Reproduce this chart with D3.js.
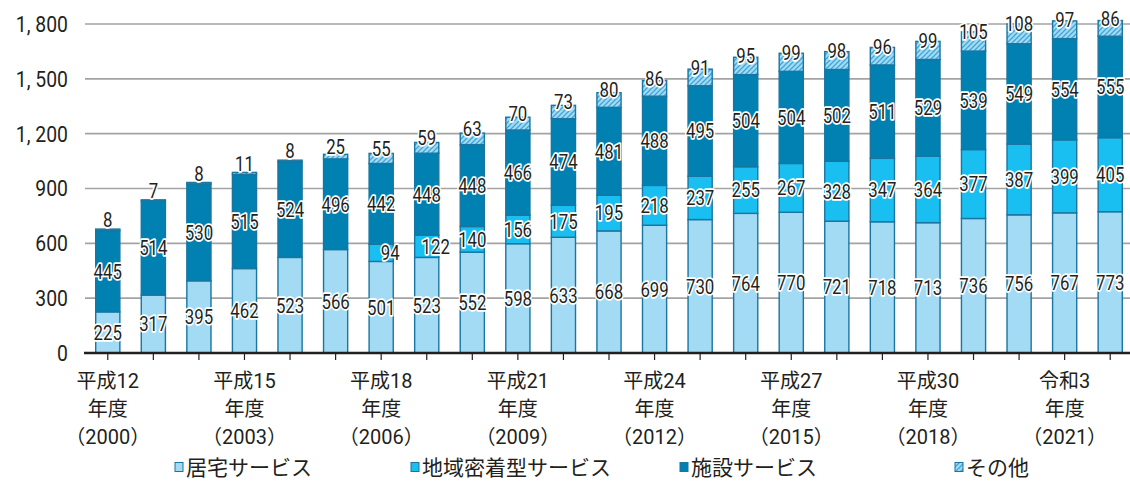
<!DOCTYPE html>
<html>
<head>
<meta charset="utf-8">
<script src="https://cdn.jsdelivr.net/npm/d3@7"></script>
<style>
body { margin: 0; background: #fff; }
text { font-family: Roboto, "Noto Sans CJK JP", sans-serif; fill: #231f20; }
</style>
</head>
<body>
<div id="chart"></div>
<script>
var width = 1130, height = 482;

// 年度
var years = [2000, 2001, 2002, 2003, 2004, 2005, 2006, 2007, 2008, 2009, 2010, 2011,
             2012, 2013, 2014, 2015, 2016, 2017, 2018, 2019, 2020, 2021, 2022];
var kyotaku = [225, 317, 395, 462, 523, 566, 501, 523, 552, 598, 633, 668,
               699, 730, 764, 770, 721, 718, 713, 736, 756, 767, 773];
var chiiki = [0, 0, 0, 0, 0, 0, 94, 122, 140, 156, 175, 195,
              218, 237, 255, 267, 328, 347, 364, 377, 387, 399, 405];
var shisetsu = [445, 514, 530, 515, 524, 496, 442, 448, 448, 466, 474, 481,
                488, 495, 504, 504, 502, 511, 529, 539, 549, 554, 555];
var sonota = [8, 7, 8, 11, 8, 25, 55, 59, 63, 70, 73, 80,
              86, 91, 95, 99, 98, 96, 99, 105, 108, 97, 86];

var seriesNames = ["居宅サービス", "地域密着型サービス", "施設サービス", "その他"];
var yTicks = [0, 300, 600, 900, 1200, 1500, 1800];
var labelYears = [2000, 2003, 2006, 2009, 2012, 2015, 2018, 2021];
var labelLines = [
  ["平成12", "年度", "（2000）"],
  ["平成15", "年度", "（2003）"],
  ["平成18", "年度", "（2006）"],
  ["平成21", "年度", "（2009）"],
  ["平成24", "年度", "（2012）"],
  ["平成27", "年度", "（2015）"],
  ["平成30", "年度", "（2018）"],
  ["令和3", "年度", "（2021）"]
];

var colors = ["#a3dbf5", "#19bff0", "#0081b2", "url(#hatch)"];

var svg = d3.select("#chart").append("svg")
  .attr("width", width)
  .attr("height", height);

var defs = svg.append("defs");
var pat = defs.append("pattern")
  .attr("id", "hatch")
  .attr("patternUnits", "userSpaceOnUse")
  .attr("width", 5).attr("height", 5);
pat.append("rect").attr("width", 5).attr("height", 5).attr("fill", "#a3dbf5");
pat.append("path")
  .attr("d", "M0,5 L5,0 M-1,1 L1,-1 M4,6 L6,4")
  .attr("stroke", "#3fa6d8").attr("stroke-width", 1.3);

var x = d3.scaleBand()
  .domain(years)
  .range([85, 1133])
  .paddingInner(0.47)
  .paddingOuter(0.235);

var y = d3.scaleLinear()
  .domain([0, 1800])
  .range([353, 24]);

// grid
svg.append("g").selectAll("line")
  .data(yTicks.slice(1))
  .enter().append("line")
  .attr("x1", 85).attr("x2", 1133)
  .attr("y1", function(d) { return y(d); })
  .attr("y2", function(d) { return y(d); })
  .attr("stroke", "#a3a3a3")
  .attr("stroke-width", 1.6);

// y labels (narrowed)
svg.append("g").selectAll("text")
  .data(yTicks)
  .enter().append("text")
  .attr("transform", function(d) { return "translate(68," + y(d) + ") scale(0.88,1)"; })
  .attr("dy", "0.36em")
  .attr("text-anchor", "end")
  .attr("font-size", "22px")
  .text(function(d) { return d3.format(",")(d).replace(",", ", "); });

// stacked data
var table = years.map(function(yr, i) {
  return { year: yr, k: kyotaku[i], c: chiiki[i], s: shisetsu[i], o: sonota[i] };
});
var keys = ["k", "c", "s", "o"];
var stack = d3.stack().keys(keys)(table);

var layers = svg.append("g").selectAll("g")
  .data(stack)
  .enter().append("g")
  .attr("fill", function(d, i) { return colors[i]; });

layers.selectAll("rect")
  .data(function(d) { return d.filter(function(p) { return p[1] > p[0]; }); })
  .enter().append("rect")
  .attr("x", function(d) { return x(d.data.year); })
  .attr("width", x.bandwidth())
  .attr("y", function(d) { return y(d[1]); })
  .attr("height", function(d) { return y(d[0]) - y(d[1]); })
  .attr("stroke", "#1a75a0")
  .attr("stroke-width", 1.4);

// axis
svg.append("line")
  .attr("x1", 84).attr("x2", 1133)
  .attr("y1", 353).attr("y2", 353)
  .attr("stroke", "#231f20").attr("stroke-width", 2.5);

svg.append("g").selectAll("line")
  .data(years)
  .enter().append("line")
  .attr("x1", function(d) { return x(d) + x.bandwidth() / 2; })
  .attr("x2", function(d) { return x(d) + x.bandwidth() / 2; })
  .attr("y1", 353).attr("y2", 360)
  .attr("stroke", "#231f20").attr("stroke-width", 1.2);

// value labels
stack.forEach(function(layer, li) {
  svg.append("g").selectAll("text")
    .data(layer.filter(function(p) { return p[1] > p[0]; }))
    .enter().append("text")
    .attr("transform", function(d) {
      var cx = x(d.data.year) + x.bandwidth() / 2;
      if (li === 1 && y(d[0]) - y(d[1]) < 24) cx += 9;
      var cy = (y(d[0]) + y(d[1])) / 2;
      if (li === 3) cy -= 10;
      return "translate(" + cx + "," + cy + ") scale(0.82,1)";
    })
    .attr("dy", "0.36em")
    .attr("text-anchor", "middle")
    .attr("font-size", "20.5px")
    .attr("stroke", "#fff")
    .attr("stroke-width", 3.5)
    .attr("stroke-linejoin", "round")
    .attr("paint-order", "stroke")
    .text(function(d) { return d.data[keys[li]]; });
});

// x labels
var xl = svg.append("g").selectAll("text")
  .data(labelYears)
  .enter().append("text")
  .attr("text-anchor", "middle")
  .attr("font-size", "20px");
xl.selectAll("tspan")
  .data(function(d, i) { return labelLines[i].map(function(t) { return { t: t, yr: d }; }); })
  .enter().append("tspan")
  .attr("x", function(d) { return x(d.yr) + x.bandwidth() / 2; })
  .attr("y", function(d, j) { return 388 + j * 28; })
  .text(function(d) { return d.t; });

// legend
var legendX = [175, 411, 680, 955];
var leg = svg.append("g").selectAll("g")
  .data(seriesNames)
  .enter().append("g")
  .attr("transform", function(d, i) { return "translate(" + legendX[i] + ",467)"; });
leg.append("rect")
  .attr("x", 0).attr("y", -4.5)
  .attr("width", 8).attr("height", 9)
  .attr("fill", function(d, i) { return colors[i]; })
  .attr("stroke", "#1a75a0").attr("stroke-width", 1);
leg.append("text")
  .attr("x", 11)
  .attr("y", 0)
  .attr("dy", "0.36em")
  .attr("font-size", "21px")
  .text(function(d) { return d; });
</script>
</body>
</html>
